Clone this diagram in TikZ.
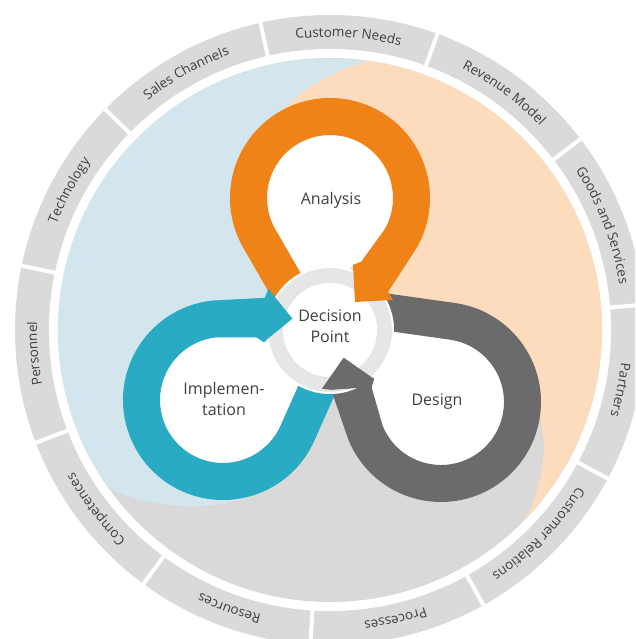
\documentclass[tikz,border=0pt]{standalone}
\usepackage{fontspec}
\setmainfont{Open Sans}
\usetikzlibrary{decorations.text}

\definecolor{segGray}{HTML}{DADADA}
\definecolor{bgGray}{HTML}{D9D9D9}
\definecolor{bgBlue}{HTML}{D3E6ED}
\definecolor{bgPeach}{HTML}{FDDCBE}
\definecolor{loopOrange}{HTML}{EF8318}
\definecolor{loopCyan}{HTML}{29ABC3}
\definecolor{loopGray}{HTML}{6B6B6B}
\definecolor{ringGray}{HTML}{E6E6E6}
\definecolor{txtGray}{HTML}{3F3F3F}

\newcommand{\segfont}{\fontsize{13.5}{16}\selectfont}
% x/y of loop centre, turn, colour
\def\looplist{0/132/0/loopOrange,-107/-70/126/loopCyan,111/-72/232/loopGray}

\begin{document}
\begin{tikzpicture}[x=1pt,y=1pt,
  looplabel/.style={text=txtGray,font=\fontsize{16}{21}\selectfont,align=center}]
\useasboundingbox (-330,-309) rectangle (305,330);
\clip (-330,-309) rectangle (305,330);

% outer ring of eleven segments
\fill[segGray] (0,0) circle (315);
\fill[white] (0,0) circle (281);
\foreach \i in {0,...,10}
  \draw[white,line width=4] ({4.6+\i*360/11}:278) -- ({4.6+\i*360/11}:318);
\foreach \a/\lbl in {21/Goods and Services,53.7/Revenue Model,86.4/Customer Needs,119.2/Sales Channels,151.9/Technology,184.6/Personnel,217.4/Competences,250.1/Resources,282.8/Processes,315.6/Customer Relations,348.3/Partners}
  \path[decorate,decoration={text along path,text align=center,text color=txtGray,text/.expanded={|\noexpand\segfont|\lbl}}]
    ({\a+16}:293) arc[start angle=\a+16,end angle=\a-16,radius=293];

% background disc split in three
\fill[bgGray] (0,0) circle (272);
\begin{scope}
  \clip (0,0) circle (272);
  \fill[bgBlue] (0,0) -- (-55,-150) .. controls (-85,-182) and (-170,-185) .. (-223,-157)
    arc[start angle=215.1,end angle=81,radius=272]
    .. controls (-5,258) and (-45,230) .. (-58,204) -- cycle;
  \fill[bgPeach] (0,0) -- (-58,204) .. controls (-45,230) and (-5,258) .. (43,270)
    arc[start angle=81,end angle=-45,radius=272]
    .. controls (215,-160) and (220,-105) .. (205,-75) -- cycle;
\end{scope}

% loops: white inside, then the band
\foreach \x/\y/\r/\c in \looplist
  \fill[white,shift={(\x,\y)},rotate=\r] (-30:63) arc[start angle=-30,end angle=210,radius=63]
    -- (-12.1,-105.1) -- (23,-67) -- (31,-64) -- cycle;
\foreach \x/\y/\r/\c in \looplist
  \fill[\c,shift={(\x,\y)},rotate=\r] (-44.1,-123.6) -- (210:100) arc[start angle=210,end angle=-30,radius=100]
    -- (58,-94) -- (63,-102) -- (25,-104) -- (23,-67) -- (31,-64)
    -- (-30:63) arc[start angle=-30,end angle=210,radius=63] -- (-12.1,-105.1) -- cycle;

% decision ring covers the tails
\fill[ringGray,draw=white,line width=2] (0,0) circle (63);
\fill[white] (0,0) circle (47);

% heads on top of the ring
\foreach \x/\y/\r/\c in \looplist
  \fill[\c,shift={(\x,\y)},rotate=\r] (58,-94) -- (63,-102) -- (25,-104) -- (23,-67) -- (31,-64) -- cycle;

\node[looplabel] (decision) at (0,4) {Decision\\Point};
\node[looplabel] (analysis) at (1,130) {Analysis};
\node[looplabel] (implementation) at (-106,-69) {Implemen-\\tation};
\node[looplabel] (design) at (107,-72) {Design};
\end{tikzpicture}
\end{document}
